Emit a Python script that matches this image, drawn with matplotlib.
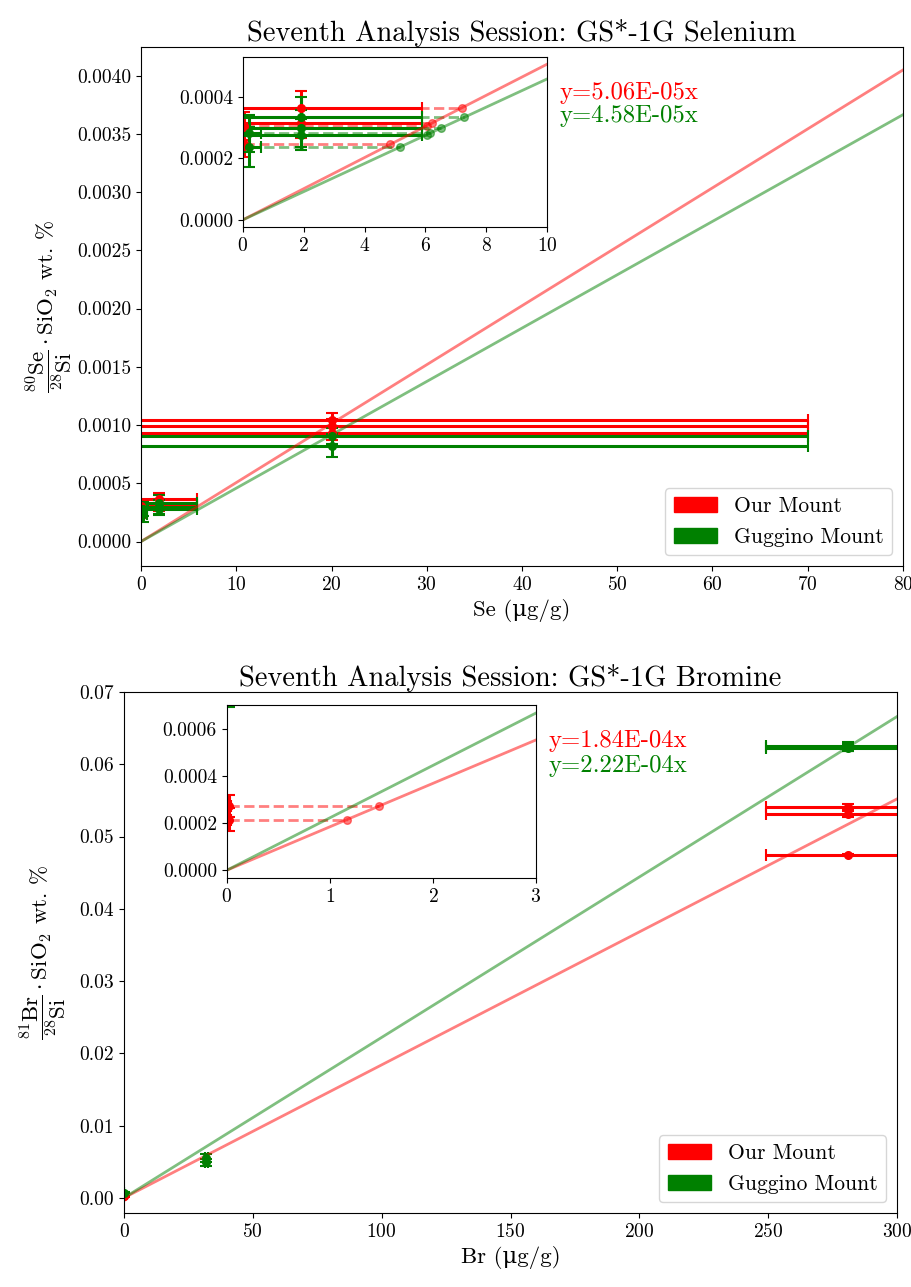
import numpy as np
import matplotlib
matplotlib.use("Agg")
import matplotlib.pyplot as plt
from matplotlib.patches import Patch
from matplotlib.ticker import FormatStrFormatter, MultipleLocator

plt.rcParams["font.family"] = ["cmr10", "DejaVu Serif"]
plt.rcParams["mathtext.fontset"] = "cm"
plt.rcParams["axes.formatter.use_mathtext"] = True

# === SELENIUM DATA (x = reference conc., y = normalised ratio) ===
se_red_x = [20.0, 20.0, 20.0, 1.9, 1.9, 0.03, 0.03]
se_red_xerr = [50.0, 50.0, 50.0, 4.0, 4.0, 0.03, 0.03]
se_red_y = [1.043e-3, 0.994e-3, 0.934e-3, 3.65e-4, 3.15e-4, 3.06e-4, 2.45e-4]
se_red_yerr = [0.06e-3, 0.06e-3, 0.06e-3, 0.55e-4, 0.5e-4, 0.45e-4, 0.4e-4]

se_green_x = [20.0, 20.0, 1.9, 1.9, 1.9, 0.2, 0.2]
se_green_xerr = [50.0, 50.0, 4.0, 4.0, 4.0, 0.4, 0.4]
se_green_y = [0.906e-3, 0.822e-3, 3.33e-4, 2.98e-4, 2.77e-4, 2.82e-4, 2.36e-4]
se_green_yerr = [0.07e-3, 0.1e-3, 0.65e-4, 0.6e-4, 0.5e-4, 0.6e-4, 0.65e-4]

se_slope_red = 5.06e-05
se_slope_green = 4.58e-05

# === BROMINE DATA ===
br_red_x = [281.0, 281.0, 281.0, 0.02, 0.02]
br_red_xerr = [32.0, 32.0, 32.0, 0.02, 0.02]
br_red_y = [0.0541, 0.0531, 0.04745, 2.72e-4, 2.15e-4]
br_red_yerr = [0.0004, 0.0004, 0.0002, 0.46e-4, 0.48e-4]

br_green_x = [281.0, 281.0, 32.0, 32.0, 0.02]
br_green_xerr = [32.0, 32.0, 0.5, 0.5, 0.02]
br_green_y = [0.0625, 0.0623, 0.0055, 0.0049, 7.3e-4]
br_green_yerr = [0.0006, 0.0005, 0.0005, 0.0005, 0.4e-4]

br_slope_red = 1.84e-04
br_slope_green = 2.22e-04

W, H = 912, 1287
fig = plt.figure(figsize=(W / 100, H / 100), dpi=100)


def px_axes(left, top, right, bottom):
    return fig.add_axes([left / W, 1 - bottom / H, (right - left) / W, (bottom - top) / H])


def draw_points(ax, xs, xerrs, ys, yerrs, color):
    for x, xe, y, ye in zip(xs, xerrs, ys, yerrs):
        ax.errorbar(x, y, xerr=xe, yerr=ye, fmt="o", color=color, ms=5.5,
                    elinewidth=2.2, capsize=4, capthick=1.5)


def draw_fit(ax, slope, color, xmax):
    xx = np.array([0, xmax])
    ax.plot(xx, slope * xx, color=color, alpha=0.5, lw=2)


def draw_projection(ax, xs, ys, slope, color):
    for x, y in zip(xs, ys):
        ax.plot([x, y / slope], [y, y], "--", color=color, alpha=0.5, lw=2)
        ax.plot(y / slope, y, "o", color=color, alpha=0.5, ms=5.5)


def legend(ax):
    handles = [Patch(color="red", label="Our Mount"),
               Patch(color="green", label="Guggino Mount")]
    ax.legend(handles=handles, loc="lower right", fontsize=15.5)


TICK = 14
TITLE = 20.5
LABEL = 16.5
NOTE = 17.8

# === SELENIUM MAIN ===
ax1 = px_axes(141, 47, 903, 566)
draw_points(ax1, se_red_x, se_red_xerr, se_red_y, se_red_yerr, "red")
draw_points(ax1, se_green_x, se_green_xerr, se_green_y, se_green_yerr, "green")
draw_fit(ax1, se_slope_red, "red", 80)
draw_fit(ax1, se_slope_green, "green", 80)
ax1.set_xlim(0, 80)
ax1.set_ylim(-0.00021, 0.004245)
ax1.xaxis.set_major_locator(MultipleLocator(10))
ax1.yaxis.set_major_locator(MultipleLocator(0.0005))
ax1.yaxis.set_major_formatter(FormatStrFormatter("%.4f"))
ax1.tick_params(labelsize=TICK)
ax1.set_title("Seventh Analysis Session: GS*-1G Selenium", fontsize=TITLE, pad=4)
ax1.set_xlabel("Se (\u03bcg/g)", fontsize=LABEL)
ax1.set_ylabel(r"$\dfrac{{}^{80}\mathrm{Se}}{{}^{28}\mathrm{Si}}\cdot\mathrm{SiO_2}$ wt. %",
               fontsize=LABEL, labelpad=2)
legend(ax1)

# === SELENIUM INSET ===
ins1 = px_axes(242.7, 57, 547.3, 227.3)
draw_projection(ins1, se_red_x, se_red_y, se_slope_red, "red")
draw_projection(ins1, se_green_x, se_green_y, se_slope_green, "green")
draw_points(ins1, se_red_x, se_red_xerr, se_red_y, se_red_yerr, "red")
draw_points(ins1, se_green_x, se_green_xerr, se_green_y, se_green_yerr, "green")
draw_fit(ins1, se_slope_red, "red", 10)
draw_fit(ins1, se_slope_green, "green", 10)
ins1.set_xlim(0, 10)
ins1.set_ylim(-0.000024, 0.000529)
ins1.xaxis.set_major_locator(MultipleLocator(2))
ins1.yaxis.set_major_locator(MultipleLocator(0.0002))
ins1.yaxis.set_major_formatter(FormatStrFormatter("%.4f"))
ins1.tick_params(labelsize=TICK)

fig.text(560 / W, 1 - 93 / H, f"y={se_slope_red:.2E}x", color="red", fontsize=NOTE, va="center")
fig.text(560 / W, 1 - 116 / H, f"y={se_slope_green:.2E}x", color="green", fontsize=NOTE, va="center")

# === BROMINE MAIN ===
ax2 = px_axes(124, 692, 897, 1213)
draw_points(ax2, br_red_x, br_red_xerr, br_red_y, br_red_yerr, "red")
draw_points(ax2, br_green_x, br_green_xerr, br_green_y, br_green_yerr, "green")
draw_fit(ax2, br_slope_red, "red", 300)
draw_fit(ax2, br_slope_green, "green", 300)
ax2.set_xlim(0, 300)
ax2.set_ylim(-0.0021, 0.07)
ax2.xaxis.set_major_locator(MultipleLocator(50))
ax2.yaxis.set_major_locator(MultipleLocator(0.01))
ax2.yaxis.set_major_formatter(FormatStrFormatter("%.2f"))
ax2.tick_params(labelsize=TICK)
ax2.set_title("Seventh Analysis Session: GS*-1G Bromine", fontsize=TITLE, pad=4)
ax2.set_xlabel("Br (\u03bcg/g)", fontsize=LABEL)
ax2.set_ylabel(r"$\dfrac{{}^{81}\mathrm{Br}}{{}^{28}\mathrm{Si}}\cdot\mathrm{SiO_2}$ wt. %",
               fontsize=LABEL, labelpad=8)
legend(ax2)

# === BROMINE INSET ===
ins2 = px_axes(226.7, 705, 536, 878.3)
draw_projection(ins2, br_red_x, br_red_y, br_slope_red, "red")
draw_projection(ins2, br_green_x, br_green_y, br_slope_green, "green")
draw_points(ins2, br_red_x, br_red_xerr, br_red_y, br_red_yerr, "red")
draw_points(ins2, br_green_x, br_green_xerr, br_green_y, br_green_yerr, "green")
draw_fit(ins2, br_slope_red, "red", 3)
draw_fit(ins2, br_slope_green, "green", 3)
ins2.set_xlim(0, 3)
ins2.set_ylim(-0.000034, 0.0007)
ins2.xaxis.set_major_locator(MultipleLocator(1))
ins2.yaxis.set_major_locator(MultipleLocator(0.0002))
ins2.yaxis.set_major_formatter(FormatStrFormatter("%.4f"))
ins2.tick_params(labelsize=TICK)

fig.text(549 / W, 1 - 741 / H, f"y={br_slope_red:.2E}x", color="red", fontsize=NOTE, va="center")
fig.text(549 / W, 1 - 766 / H, f"y={br_slope_green:.2E}x", color="green", fontsize=NOTE, va="center")

fig.savefig("out.png", dpi=100)
